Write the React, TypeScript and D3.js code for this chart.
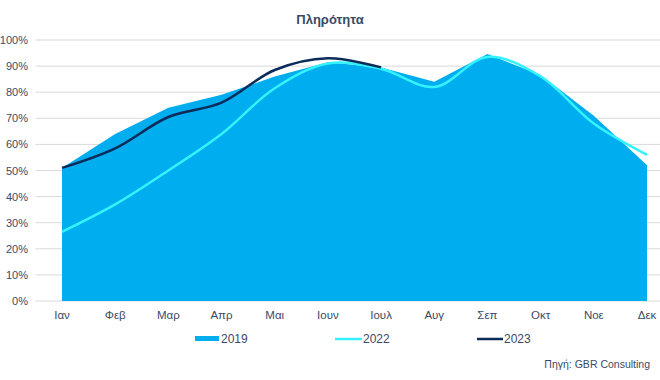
import React from "react";
import * as d3 from "d3";

const months = ["Ιαν", "Φεβ", "Μαρ", "Απρ", "Μαι", "Ιουν", "Ιουλ", "Αυγ", "Σεπ", "Οκτ", "Νοε", "Δεκ"];
const y2019 = [51, 64, 74, 79, 86, 91.5, 89.5, 84, 94.6, 86.6, 71, 52];
const y2022 = [26.5, 37, 50, 64, 81.5, 91, 89, 82, 93.5, 86, 68, 56];
const y2023 = [51, 58.5, 70.5, 76, 88.5, 93, 89.5];
const yTicks = [0, 10, 20, 30, 40, 50, 60, 70, 80, 90, 100];

const W = 660, H = 380;
const TEXT = "#3A4A66";
const C2019 = "#00AEEF";
const C2022 = "#33F3FF";
const C2023 = "#0B2B5A";

export default function App() {
  const x = d3.scalePoint<string>().domain(months).range([62, 647]);
  const step = x.step();
  const y = d3.scaleLinear().domain([0, 100]).range([301, 40]);

  const area = d3.area<number>()
    .x((_, i) => x(months[i])!)
    .y0(y(0))
    .y1((d) => y(d))
    .curve(d3.curveLinear);
  const line = d3.line<number>()
    .x((_, i) => x(months[i])!)
    .y((d) => y(d))
    .curve(d3.curveCatmullRom.alpha(0.5));

  const font = "'Liberation Sans', Arial, sans-serif";
  const gx0 = x(months[0])! - step / 2;
  const gx1 = x(months[months.length - 1])! + step / 2;

  return (
    <svg width={W} height={H} style={{ position: "absolute", left: 0, top: 0, background: "#fff" }} fontFamily={font}>
      <text x={330} y={24} textAnchor="middle" fontSize={13} fontWeight="bold" fill={TEXT}>Πληρότητα</text>
      {yTicks.map((t) => (
        <g key={t}>
          <line x1={gx0} x2={gx1} y1={y(t)} y2={y(t)} stroke="#D9D9D9" strokeWidth={1} />
          <text x={28} y={y(t) + 4} textAnchor="end" fontSize={11} fill={TEXT}>{t}%</text>
        </g>
      ))}
      <path d={area(y2019)!} fill={C2019} />
      <path d={line(y2022)!} fill="none" stroke={C2022} strokeWidth={2.5} />
      <path d={line(y2023)!} fill="none" stroke={C2023} strokeWidth={2.5} />
      {months.map((m) => (
        <text key={m} x={x(m)!} y={319} textAnchor="middle" fontSize={11.5} fill={TEXT}>{m}</text>
      ))}
      <rect x={195} y={336} width={24} height={5} fill={C2019} />
      <text x={221} y={343} fontSize={12} fill={TEXT}>2019</text>
      <line x1={335} x2={362} y1={339} y2={339} stroke={C2022} strokeWidth={2.5} />
      <text x={363} y={343} fontSize={12} fill={TEXT}>2022</text>
      <line x1={477} x2={503} y1={339} y2={339} stroke={C2023} strokeWidth={2.5} />
      <text x={504} y={343} fontSize={12} fill={TEXT}>2023</text>
      <text x={650} y={368} textAnchor="end" fontSize={10.5} fill={TEXT}>Πηγή: GBR Consulting</text>
    </svg>
  );
}
